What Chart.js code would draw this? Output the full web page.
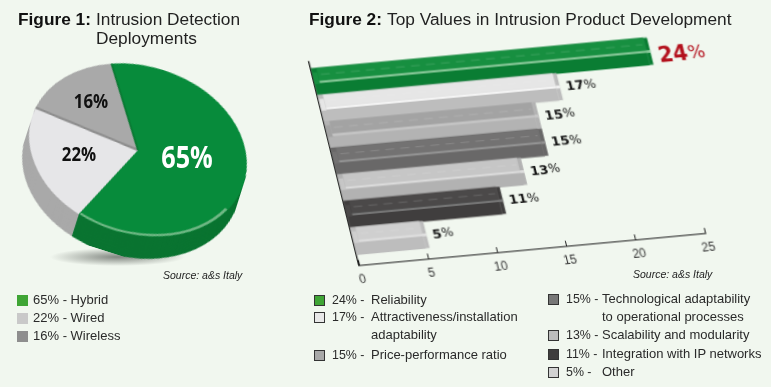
<!DOCTYPE html>
<html>
<head>
<meta charset="utf-8">
<title>Intrusion Detection</title>
<script src="https://cdn.jsdelivr.net/npm/chart.js@4"></script>
<style>
  html, body { margin: 0; padding: 0; }
  body { width: 771px; height: 387px; background: #f1f7ef; position: relative; overflow: hidden;
         font-family: "Liberation Sans", Arial, sans-serif; color: #222; }
  .abs { position: absolute; white-space: nowrap; }
  .title { font-size: 17.3px; line-height: 19px; color: #222; }
  .title b { color: #111; }
  .source { font-size: 10.5px; font-style: italic; color: #222; }
  .pct { font-family: "Open Sans", sans-serif; font-weight: 700; transform-origin: 50% 50%; line-height: 1; }
  .lg { font-size: 13px; line-height: 14px; color: #2a2a2a; }
  .sw { position: absolute; width: 9px; height: 9px; border: 1px solid #333; }
  canvas { position: absolute; display: block; }
  #shadow { position: absolute; left: 50px; top: 248px; width: 135px; height: 18px;
            background: radial-gradient(closest-side, rgba(70,75,70,.65), rgba(70,75,70,0)); }
</style>
</head>
<body>
<div id="shadow"></div>
<canvas id="pie" width="280" height="280" style="left:-2px;top:10px;transform-origin:140px 140px;transform:rotate(17.6deg) scale(1,.756)"></canvas>
<canvas id="bars" width="460" height="253" style="left:339px;top:52px;transform-origin:20px 213px;transform:matrix(1,-0.0925,0.246,1,0,0)"></canvas>

<div class="abs title" style="left:18px;top:10px"><b>Figure 1:</b></div>
<div class="abs title" style="left:96px;top:10px">Intrusion Detection<br>Deployments</div>
<div class="abs title" style="left:309px;top:10px"><b>Figure 2:</b></div>
<div class="abs title" style="left:387px;top:10px">Top Values in Intrusion Product Development</div>
<div class="abs source" style="left:163px;top:269px">Source: a&amp;s Italy</div>
<div class="abs source" style="left:633px;top:268px">Source: a&amp;s Italy</div>
<div id="legends"></div>

<script>
// Figure 1
const pieLabels = ['Hybrid', 'Wired', 'Wireless'];
const pieValues = [65, 22, 16];
const pieColors = ['#078b3b', '#e6e6e8', '#a9a9a9'];
const pieSides = ['#0a7431', '#a9a9a9', '#a9a9a9'];
const pieSwatches = ['#3fa535', '#c9c9c9', '#8e8e8e'];

// Figure 2
const barLabels = ['Reliability', 'Attractiveness/installation\nadaptability', 'Price-performance ratio',
  'Technological adaptability\nto operational processes', 'Scalability and modularity',
  'Integration with IP networks', 'Other'];
const barValues = [24, 17, 15, 15, 13, 11, 5];
const barPositions = [0, 1, 2, 3, 4, 5, 6];
const barTicks = [0, 5, 10, 15, 20, 25];
const barLower = ['#0a7d33', '#bdbdbd', '#b3b3b3', '#696868', '#b2b2b2', '#403e3e', '#bdbdbd'];
const barUpper = ['#178f40', '#e6e6e6', '#a3a3a3', '#737272', '#c6c6c6', '#4b4949', '#cfcfcf'];
const barShine = ['#8ccb9c', '#f6f6f6', '#c8c8c8', '#949494', '#dedede', '#767676', '#e2e2e2'];
const barSwatches = ['#3fa535', '#e8e8e8', '#a8a8a8', '#777777', '#bcbcbc', '#3f3d3d', '#d2d2d2'];

// ---- legends ----
const legendBox = document.getElementById('legends');
function addLegend(x, y, labelX, color, value, label, outlined) {
  const sw = document.createElement('div');
  sw.className = 'sw';
  sw.style.cssText = `left:${x}px;top:${y + 2}px;background:${color};` + (outlined ? '' : 'border-color:' + color);
  legendBox.appendChild(sw);
  const pct = document.createElement('div');
  pct.className = 'abs lg';
  pct.style.cssText = `left:${x + (outlined ? 18 : 16)}px;top:${y}px;` + (labelX ? 'font-size:12.4px' : '');
  pct.textContent = value + '% - ' + (labelX ? '' : label);
  legendBox.appendChild(pct);
  if (labelX) {
    label.split('\n').forEach((line, i) => {
      const t = document.createElement('div');
      t.className = 'abs lg';
      t.style.cssText = `left:${labelX}px;top:${y + i * 17.5}px`;
      t.textContent = line;
      legendBox.appendChild(t);
    });
  }
}
[293, 311, 329].forEach((y, i) => addLegend(17, y, 0, pieSwatches[i], pieValues[i], pieLabels[i], false));
[293, 310, 348].forEach((y, i) => addLegend(314, y, 371, barSwatches[i], barValues[i], barLabels[i], true));
[292, 328, 347, 365].forEach((y, i) => addLegend(548, y, 602, barSwatches[i + 3], barValues[i + 3], barLabels[i + 3], true));

// ---- pie percent labels ----
[[187, 157, 30, '#fff', 0.84], [79, 154, 20, '#111', 0.84], [91, 101, 20, '#111', 0.84]].forEach((p, i) => {
  const d = document.createElement('div');
  d.className = 'abs pct';
  d.textContent = pieValues[i] + '%';
  d.style.cssText = `left:${p[0]}px;top:${p[1]}px;font-size:${p[2]}px;color:${p[3]};transform:translate(-50%,-50%) scaleX(${p[4]})`;
  document.body.appendChild(d);
});

// ---- pie: side wall under the arcs, rim light on top ----
const tilt = 17.6 * Math.PI / 180;
const squash = 0.756;
const pieDepth = { dx: -7, dy: 22, steps: 24 };

function wedge(ctx, arc) {
  ctx.beginPath();
  ctx.moveTo(arc.x, arc.y);
  ctx.arc(arc.x, arc.y, arc.outerRadius, arc.startAngle, arc.endAngle);
  ctx.closePath();
}

const pieWall = {
  id: 'pieWall',
  beforeDatasetsDraw(chart) {
    const { ctx } = chart;
    // screen offset -> canvas offset, the canvas is rotated and squashed by css
    const ox = pieDepth.dx * Math.cos(tilt) + pieDepth.dy * Math.sin(tilt);
    const oy = (-pieDepth.dx * Math.sin(tilt) + pieDepth.dy * Math.cos(tilt)) / squash;
    const arcs = chart.getDatasetMeta(0).data;
    for (let s = pieDepth.steps; s > 0; s--) {
      arcs.forEach((arc, i) => {
        ctx.save();
        ctx.translate(ox * s / pieDepth.steps, oy * s / pieDepth.steps);
        ctx.fillStyle = pieSides[i];
        wedge(ctx, arc);
        ctx.fill();
        ctx.restore();
      });
    }
  },
  afterDatasetsDraw(chart) {
    const { ctx } = chart;
    const arcs = chart.getDatasetMeta(0).data;
    const green = arcs[0];
    ctx.save();
    // rim light along the front of the green slice
    ctx.strokeStyle = '#6fb784';
    ctx.lineWidth = 3;
    ctx.beginPath();
    ctx.arc(green.x, green.y, green.outerRadius - 2, green.endAngle - 1.55, green.endAngle - 0.01);
    ctx.stroke();
    // seam between wired and wireless
    ctx.strokeStyle = '#8e8e8e';
    ctx.lineWidth = 3;
    ctx.beginPath();
    ctx.moveTo(arcs[1].x, arcs[1].y);
    ctx.lineTo(arcs[1].x + arcs[1].outerRadius * Math.cos(arcs[1].endAngle), arcs[1].y + arcs[1].outerRadius * Math.sin(arcs[1].endAngle));
    ctx.stroke();
    // seam at the green edge
    ctx.strokeStyle = '#0a7a33';
    ctx.lineWidth = 2;
    ctx.beginPath();
    ctx.moveTo(green.x, green.y);
    ctx.lineTo(green.x + green.outerRadius * Math.cos(green.startAngle), green.y + green.outerRadius * Math.sin(green.startAngle));
    ctx.stroke();
    ctx.restore();
  }
};

new Chart(document.getElementById('pie'), {
  type: 'pie',
  data: {
    labels: pieLabels,
    datasets: [{ data: pieValues, backgroundColor: pieColors, borderWidth: 0 }]
  },
  options: {
    responsive: false,
    animation: false,
    rotation: -27.6,
    layout: { padding: 29 },
    plugins: { legend: { display: false }, tooltip: { enabled: false } }
  },
  plugins: [pieWall]
});

// ---- bars: chart is sheared by css ----
const barFaces = {
  id: 'barFaces',
  afterDatasetsDraw(chart) {
    const { ctx } = chart;
    chart.getDatasetMeta(0).data.forEach((bar, i) => {
      const top = bar.y - bar.height / 2;
      const h = bar.height;
      const left = bar.base;
      ctx.save();
      // end cap
      ctx.fillStyle = barLower[i];
      ctx.fillRect(bar.x, top, 4, h);
      ctx.fillStyle = barShine[i];
      ctx.fillRect(bar.x, top + h * 0.46, 4, h * 0.1);
      ctx.fillStyle = barUpper[i];
      ctx.fillRect(left + 5, top, bar.x - left - 5, h * 0.47);
      ctx.fillRect(left, top + 4, 5, h * 0.43);
      ctx.fillStyle = barShine[i];
      ctx.fillRect(left + 5, top + h * 0.47, bar.x - left - 5, h * 0.08);
      ctx.strokeStyle = 'rgba(255,255,255,.16)';
      ctx.setLineDash([9, 6]);
      ctx.lineWidth = 1;
      ctx.beginPath();
      ctx.moveTo(left + 8, top + h * 0.24);
      ctx.lineTo(bar.x - 2, top + h * 0.24);
      ctx.stroke();
      ctx.setLineDash([]);
      // value text
      const big = i === 0;
      const num = String(barValues[i]);
      const x = bar.x + (big ? 11 : 10);
      const y = bar.y + (big ? 6 : 1);
      ctx.textBaseline = 'middle';
      ctx.fillStyle = big ? '#b3101c' : '#151515';
      ctx.font = 'bold ' + (big ? 21 : 13) + 'px "DejaVu Sans"';
      ctx.fillText(num, x, y);
      const w = ctx.measureText(num).width;
      ctx.font = (big ? 18 : 12.5) + 'px "DejaVu Sans"';
      ctx.fillText('%', x + w, y);
      ctx.restore();
    });
  }
};

new Chart(document.getElementById('bars'), {
  type: 'bar',
  data: {
    datasets: [{
      data: barValues.map((v, i) => ({ x: v, y: barPositions[i] })),
      backgroundColor: barLower,
      borderWidth: 0,
      barThickness: 27
    }]
  },
  options: {
    indexAxis: 'y',
    responsive: false,
    animation: false,
    layout: { padding: { left: 20, top: 10, right: 94, bottom: 0 } },
    scales: {
      x: {
        type: 'linear',
        min: 0,
        max: 25,
        afterFit(scale) { scale.height = 40; },
        afterBuildTicks(scale) { scale.ticks = barTicks.map(v => ({ value: v })); },
        grid: { drawOnChartArea: false, tickLength: -5, color: '#222' },
        border: { color: '#222', width: 1 },
        ticks: { padding: 12, maxRotation: 0, color: '#333', font: { family: '"Liberation Sans"', size: 12 } }
      },
      y: {
        type: 'linear',
        offset: false,
        reverse: true,
        min: -0.76,
        max: 6.9,
        afterFit(scale) { scale.width = 0; },
        grid: { display: false },
        border: { color: '#111', width: 1.3 },
        ticks: { display: false }
      }
    },
    plugins: { legend: { display: false }, tooltip: { enabled: false } }
  },
  plugins: [barFaces]
});
</script>
</body>
</html>
